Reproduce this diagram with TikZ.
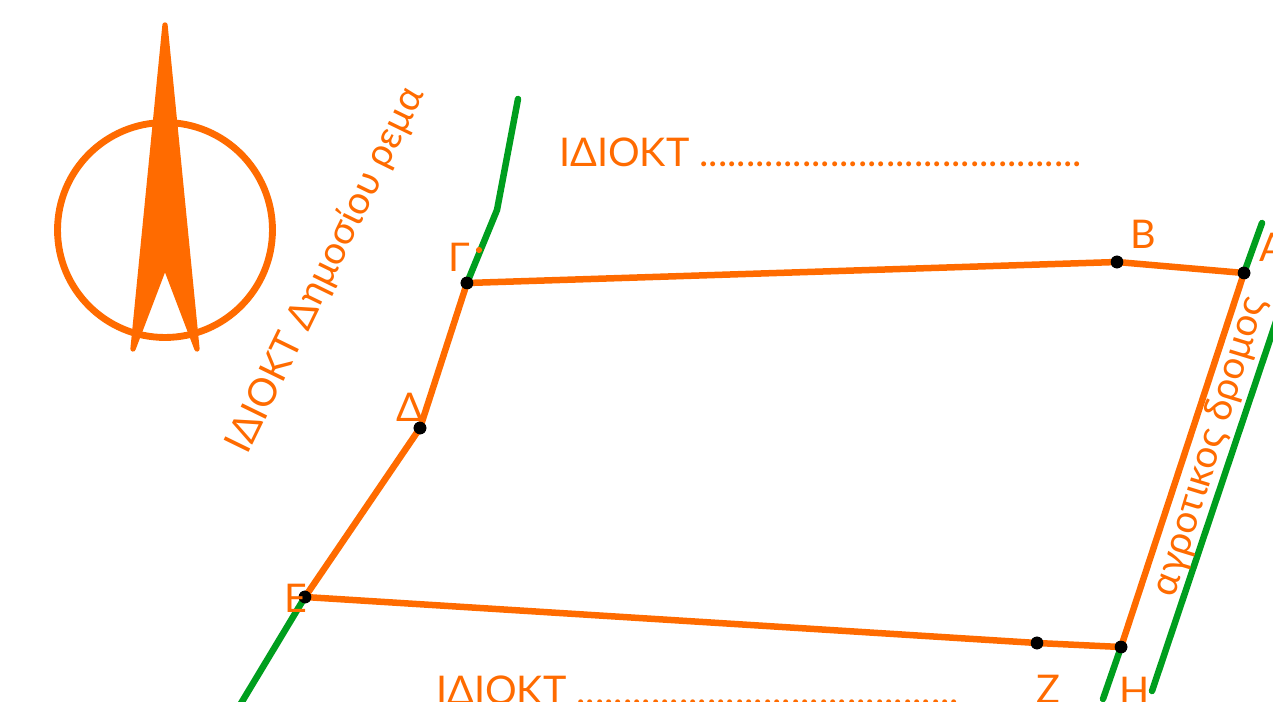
\documentclass[tikz,border=0pt]{standalone}
\usepackage{fontspec}
\setmainfont{Lato}
\definecolor{plotorange}{RGB}{255,107,0}
\definecolor{plotgreen}{RGB}{0,158,30}
\tikzset{
  boundary/.style = {line width = 3.7pt, plotorange, line cap = round},
  terrain/.style = {line width = 3.7pt, plotgreen, line cap = round},
  vertex/.style = {circle, fill, black, inner sep = 0pt, minimum size = 7.2pt},
  plotlabel/.style = {text = plotorange, font = \fontsize{22.5}{23}\selectfont, inner sep = 0pt},
  sidelabel/.style = {text = plotorange, font = \fontsize{22}{22}\selectfont, inner sep = 0pt},
}
\begin{document}
\begin{tikzpicture}[x = 0.02cm, y = -0.02cm]
\useasboundingbox (0,0) rectangle (1273,702);
\clip (0,0) rectangle (1273,702);
% corners of the plot
\node [vertex] (Gamma) at (467,283) {};
\node [vertex] (B) at (1117,262) {};
\node [vertex] (A) at (1244,273) {};
\node [vertex] (Delta) at (420,428) {};
\node [vertex] (E) at (305,597) {};
\node [vertex] (Z) at (1037,643) {};
\node [vertex] (H) at (1121,647) {};
\coordinate (streamTop) at (518,99);
\coordinate (streamBend) at (497,210);
\coordinate (streamEnd) at (240,705);
\coordinate (roadTop) at (1262,223);
\coordinate (roadEnd) at (1103,699);
\coordinate (farRoadTop) at (1290,280);
\coordinate (farRoadEnd) at (1152,691);
% green lines
\draw [terrain, line join = round] (streamTop) -- (streamBend) -- (Gamma.center);
\draw [terrain] (E.center) -- (streamEnd);
\draw [terrain] (roadTop) -- (A.center);
\draw [terrain] (H.center) -- (roadEnd);
\draw [terrain] (farRoadTop) -- (farRoadEnd);
% plot outline
\draw [boundary, line join = round] (Gamma.center) -- (B.center) -- (A.center) -- (H.center)
  -- (Z.center) -- (E.center) -- (Delta.center) -- (Gamma.center);
\foreach \corner in {Gamma, B, A, Delta, E, Z, H}
  \node [vertex] at (\corner) {};
\node [circle, fill, plotorange, inner sep = 0pt, minimum size = 3.5pt] (streamDot) at (479,250) {};
% north sign
\node [circle, draw, plotorange, line width = 3.9pt, inner sep = 0pt, minimum size = 4.3cm] (dial) at (165,230) {};
\coordinate (needleTop) at (165,25);
\coordinate (needleLeft) at (133,349);
\coordinate (needleNotch) at (165,265);
\coordinate (needleRight) at (197,349);
\draw [fill, plotorange, line width = 3pt, line join = round] (needleTop) -- (needleLeft) -- (needleNotch) -- (needleRight) -- cycle;
% labels
\node [plotlabel, anchor = west] (ownerTop) at (559,152) {ΙΔΙΟΚΤ .........................................};
\node [plotlabel, anchor = west] (ownerBottom) at (436,690) {ΙΔΙΟΚΤ .........................................};
\node [sidelabel, rotate = 64] (ownerStream) at (326,270) {ΙΔΙΟΚΤ Δημοσίου ρεμα};
\node [sidelabel, rotate = 73] (roadName) at (1210,447) {αγροτικος δρομος};
\node [plotlabel] (labelGamma) at (459,257) {Γ};
\node [plotlabel] (labelB) at (1143,234) {Β};
\node [plotlabel, anchor = west] (labelA) at (1259,247) {Α};
\node [plotlabel] (labelDelta) at (410,407) {Δ};
\node [plotlabel] (labelE) at (296,598) {Ε};
\node [plotlabel] (labelZ) at (1048,689) {Ζ};
\node [plotlabel] (labelH) at (1135,691) {Η};
\end{tikzpicture}
\end{document}
